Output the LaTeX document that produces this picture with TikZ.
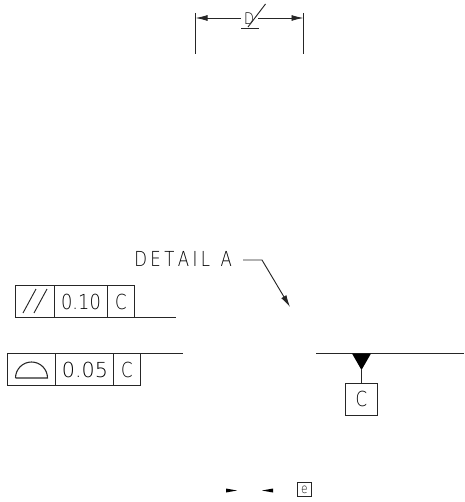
\documentclass[tikz,border=0pt]{standalone}
\usepackage{fontspec}
\setmainfont[FakeStretch=0.8]{DejaVu Sans ExtraLight}
\usetikzlibrary{arrows.meta}
\tikzset{
  thinline/.style={line width=0.7pt, black!85},
  filltip/.style={-{Latex[length=9pt,width=4.5pt]}},
  label/.style={inner sep=0pt, text=black},
  bigtext/.style={label, font=\fontsize{15.5}{15.5}\selectfont},
}
\begin{document}
\begin{tikzpicture}[x=0.75pt,y=-0.75pt]
	\useasboundingbox (0,0) rectangle (464,502);
	% top dimension
	\coordinate (dimleft) at (195.5,18);
	\coordinate (dimright) at (303.5,18);
	\coordinate (dimgapl) at (241,18);
	\coordinate (dimgapr) at (258,18);
	\draw [thinline] (195.5,13) -- (195.5,54);
	\draw [thinline] (303.5,13) -- (303.5,54);
	\draw [thinline, filltip] (dimgapl) -- (dimleft);
	\draw [thinline, filltip] (dimgapr) -- (dimright);
	\node [label, font=\fontsize{12}{12}\selectfont] (dimD) at (249,18.5) {D};
	\draw [thinline] (241,28) -- (259,28);
	\draw [thinline] (248,27) -- (265.5,4);
	% detail callout
	\node [bigtext, anchor=west] (detail) at (134,259) {D\,E\,T\,A\,I\,L\ \ A};
	\coordinate (bend) at (262,260);
	\coordinate (tip) at (290,307);
	\draw [thinline, filltip] (243,260) -- (bend) -- (tip);
	% parallelism frame
	\draw [thinline] (15,285) rectangle (134,317);
	\draw [thinline] (54.5,285) -- (54.5,317);
	\draw [thinline] (107.5,285) -- (107.5,317);
	\draw [thinline] (134,317) -- (176,317);
	\draw [thinline] (23,313) -- (36,289);
	\draw [thinline] (34,313) -- (47,289);
	\node [bigtext, xscale=1.08, transform shape] (partol) at (81,301.5) {0.10};
	\node [bigtext] (pardat) at (121,301.5) {C};
	% profile frame
	\draw [thinline] (7.5,353.5) rectangle (140.5,385.5);
	\draw [thinline] (55.5,353.5) -- (55.5,385.5);
	\draw [thinline] (113.5,353.5) -- (113.5,385.5);
	\draw [thinline] (140.5,353.5) -- (183,353.5);
	\draw [thinline, line width=0.8pt] (15.5,378) -- (47.5,378) arc (0:180:16 and -16);
	\node [bigtext, xscale=1.25, transform shape] (protol) at (85,369.5) {0.05};
	\node [bigtext] (prodat) at (127,369.5) {C};
	% datum symbol
	\draw [thinline] (316,353.5) -- (464,353.5);
	\fill [black] (352,353.5) -- (371,353.5) -- (361.5,370) -- cycle;
	\node [draw=black!85, line width=0.7pt, minimum size=24pt, inner sep=0pt, text=black, font=\fontsize{15.5}{15.5}\selectfont] (datum) at (361.5,399) {C};
	\coordinate (datumtop) at (361.5,370);
	\draw [thinline] (datumtop) -- (datum.north);
	% bottom marks
	\fill [black] (226,488.5) -- (237,490.5) -- (226,492.5) -- cycle;
	\fill [black] (273,488.5) -- (262,490.5) -- (273,492.5) -- cycle;
	\node [draw=black!85, line width=0.6pt, minimum size=11pt, inner sep=0pt, text=black, font=\fontsize{10}{10}\selectfont] (emark) at (304.5,489.5) {e};
\end{tikzpicture}
\end{document}
